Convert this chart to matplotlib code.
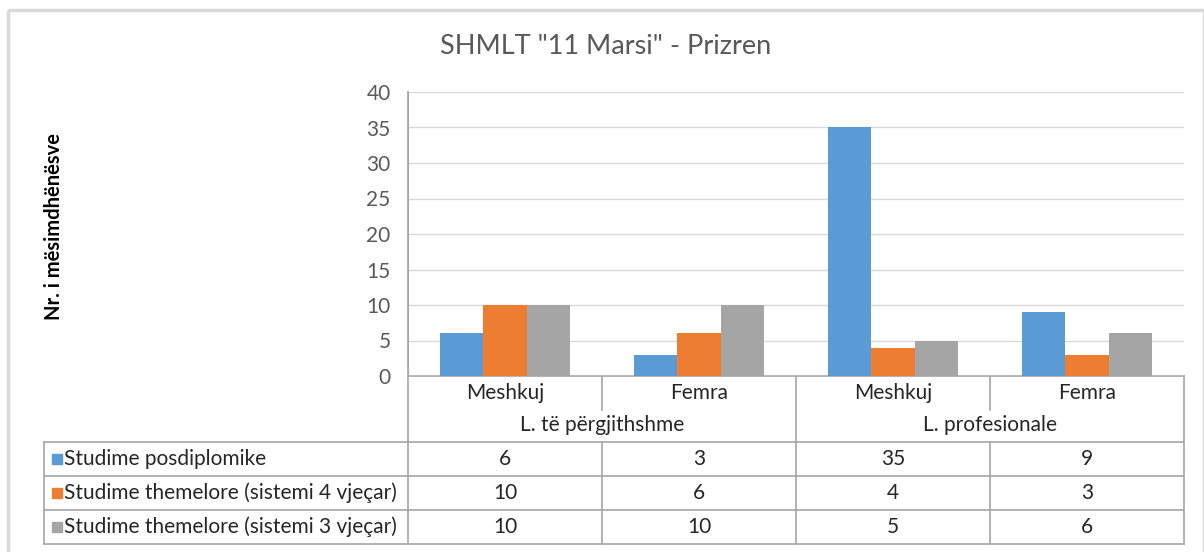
import numpy as np
import matplotlib.pyplot as plt
from matplotlib.lines import Line2D
from matplotlib.patches import Rectangle

plt.rcParams['font.family'] = ['Lato', 'DejaVu Sans']

title = 'SHMLT "11 Marsi" - Prizren'
ylabel = 'Nr. i mësimdhënësve'
categories = ['Meshkuj', 'Femra', 'Meshkuj', 'Femra']
groups = ['L. të përgjithshme', 'L. profesionale']
series = ['Studime posdiplomike',
          'Studime themelore (sistemi 4 vjeçar)',
          'Studime themelore (sistemi 3 vjeçar)']
posdiplomike = [6, 3, 35, 9]
themelore_4 = [10, 6, 4, 3]
themelore_3 = [10, 10, 5, 6]
colors = ['#5B9BD5', '#ED7D31', '#A5A5A5']

values = [posdiplomike, themelore_4, themelore_3]
W, H = 1204, 552
txt = '#595959'
dark = '#262626'
grid = '#D9D9D9'
line = '#A6A6A6'
fs = 15

fig = plt.figure(figsize=(W / 100, H / 100), dpi=100)

# overlay in pixel coordinates for border, table, labels
ov = fig.add_axes([0, 0, 1, 1])
ov.set_xlim(0, W)
ov.set_ylim(H, 0)
ov.axis('off')

# chart plot area
x0, x1, ytop, ybot = 408, 1184, 92, 376
ax = fig.add_axes([x0 / W, 1 - ybot / H, (x1 - x0) / W, (ybot - ytop) / H])
x = np.arange(len(categories))
bw = 0.222
for i, (vals, c) in enumerate(zip(values, colors)):
    ax.bar(x + (i - 1) * bw, vals, width=bw, color=c, zorder=3)
ax.set_xlim(-0.5, len(categories) - 0.5)
ax.set_ylim(0, 40)
ax.set_yticks(range(0, 41, 5))
ax.yaxis.grid(True, color=grid, linewidth=1, zorder=0)
ax.set_xticks([])
for s in ['top', 'right', 'bottom']:
    ax.spines[s].set_visible(False)
ax.spines['left'].set_color(line)
ax.tick_params(axis='y', length=0, labelsize=fs, labelcolor=txt, pad=12.5)
ax.set_facecolor('none')

# outer border
ov.add_patch(Rectangle((8, 10), W - 8, H + 20, fill=False, edgecolor='#D9D9D9', linewidth=2.5))

ov.text(606, 47, title, ha='center', va='center', fontsize=19.5, color=txt)
ov.text(54, 226, ylabel, ha='center', va='center', rotation=90, fontsize=14.5,
        fontweight='bold', color='black')

# table geometry
cw = (x1 - x0) / len(categories)
col_x = [x0 + k * cw for k in range(len(categories) + 1)]
row_cat = (376, 408)
row_grp = (408, 442)
rows = [442, 476, 510, 544]
lx = 44
lw = 1.2

ov.add_line(Line2D([x0, x0], [ytop, rows[-1]], color=line, lw=lw))
ov.add_line(Line2D([x0, x1], [ybot, ybot], color=line, lw=lw))
for k in range(1, len(col_x)):
    if k % 2 == 1 and k < len(col_x) - 1:
        ov.add_line(Line2D([col_x[k]] * 2, [ybot, row_cat[1] + 2], color=line, lw=lw))
        ov.add_line(Line2D([col_x[k]] * 2, [rows[0], rows[-1]], color=line, lw=lw))
    else:
        ov.add_line(Line2D([col_x[k]] * 2, [ybot, rows[-1]], color=line, lw=lw))
for r in rows:
    ov.add_line(Line2D([lx, x1], [r, r], color=line, lw=lw))
ov.add_line(Line2D([lx, lx], [rows[0], rows[-1]], color=line, lw=lw))

for k, cat in enumerate(categories):
    ov.text((col_x[k] + col_x[k + 1]) / 2, sum(row_cat) / 2 + 1, cat, ha='center',
            va='center', fontsize=fs, color=dark)
for g, name in enumerate(groups):
    ov.text((col_x[2 * g] + col_x[2 * g + 2]) / 2, sum(row_grp) / 2, name, ha='center',
            va='center', fontsize=fs, color=dark)

for i, (name, vals, c) in enumerate(zip(series, values, colors)):
    yc = (rows[i] + rows[i + 1]) / 2
    ov.add_patch(Rectangle((52, yc - 5), 10, 10, color=c))
    ov.text(64, yc, name, ha='left', va='center', fontsize=fs, color=dark)
    for k, v in enumerate(vals):
        ov.text((col_x[k] + col_x[k + 1]) / 2, yc, str(v), ha='center', va='center',
                fontsize=fs, color=dark)

fig.savefig('out.png', dpi=100)
